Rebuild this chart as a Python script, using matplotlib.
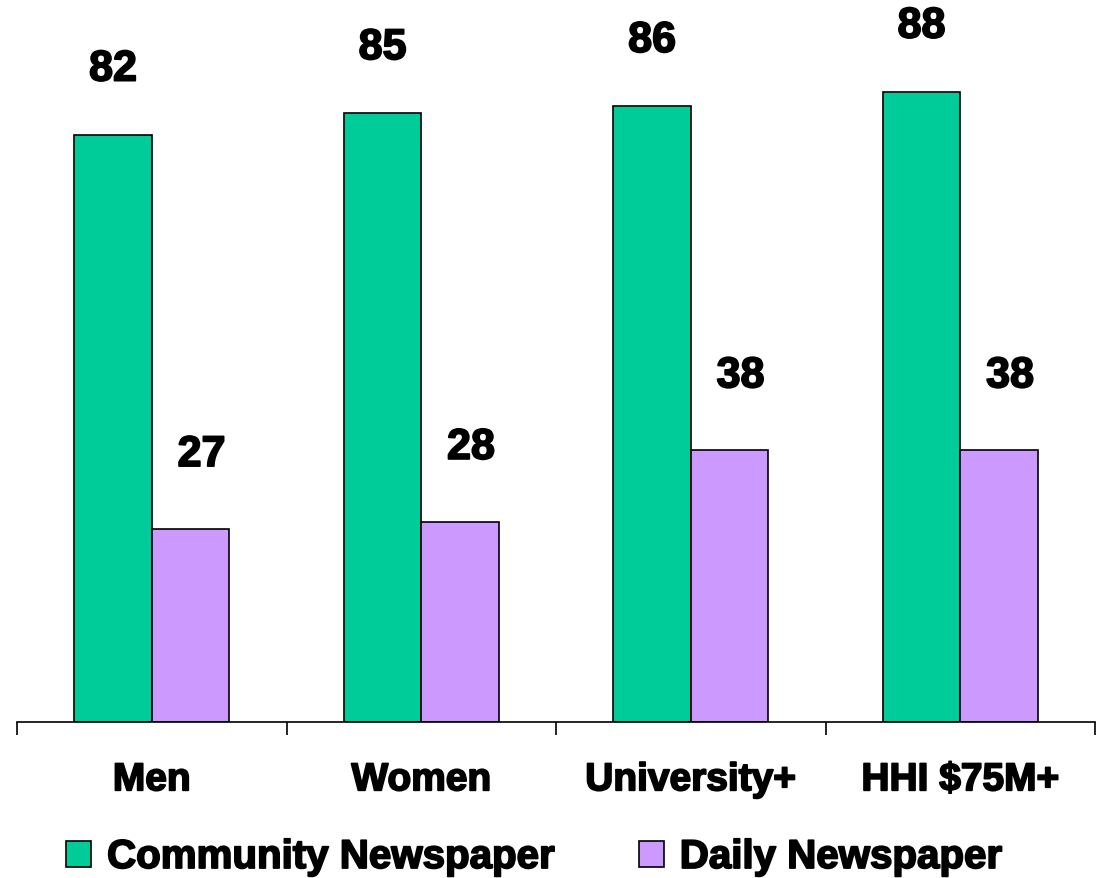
import numpy as np
import matplotlib.pyplot as plt
import matplotlib.patheffects as pe
from matplotlib.patches import Patch

plt.rcParams['font.family'] = ['Liberation Sans', 'DejaVu Sans']
plt.rcParams['font.weight'] = 'bold'

categories = ["Men", "Women", "University+", "HHI $75M+"]
community = [82, 85, 86, 88]
daily = [27, 28, 38, 38]
series_names = ["Community Newspaper", "Daily Newspaper"]
green = "#00CC99"
purple = "#CC99FF"

heavy = [pe.withStroke(linewidth=1.3, foreground="black")]

fig = plt.figure(figsize=(11.01, 8.79), dpi=100)
ax = fig.add_axes([17 / 1101, 156 / 879, 1078 / 1101, 716 / 879])

x = np.arange(len(categories))
w = 0.287
b1 = ax.bar(x - w / 2, community, w, color=green, edgecolor="black", linewidth=1.2)
b2 = ax.bar(x + w / 2, daily, w, color=purple, edgecolor="black", linewidth=1.2)

for rect, v in zip(b1, community):
    ax.annotate(str(v), (rect.get_x() + rect.get_width() / 2, rect.get_height()),
                xytext=(0, 47), textcoords="offset points", ha="center", va="center",
                fontsize=31, fontweight="bold", path_effects=heavy)
for rect, v in zip(b2, daily):
    ax.annotate(str(v), (rect.get_x() + rect.get_width() / 2, rect.get_height()),
                xytext=(8, 53), textcoords="offset points", ha="center", va="center",
                fontsize=31, fontweight="bold", path_effects=heavy)

ax.set_xlim(-0.5, len(categories) - 0.5)
ax.set_ylim(0, 100)
ax.set_xticks(np.arange(len(categories) + 1) - 0.5)
ax.set_xticklabels([])
ax.set_xticks(x, minor=True)
ax.set_xticklabels(categories, minor=True, fontsize=28, fontweight="bold")
for t in ax.get_xticklabels(minor=True):
    t.set_path_effects(heavy)
ax.tick_params(axis="x", which="major", direction="out", length=9, width=1.2, color="black")
ax.tick_params(axis="x", which="minor", length=0, pad=29)
ax.set_yticks([])
for s in ["top", "right", "left"]:
    ax.spines[s].set_visible(False)
ax.spines["bottom"].set_linewidth(1.2)

handles = [Patch(facecolor=green, edgecolor="black", linewidth=1.2),
           Patch(facecolor=purple, edgecolor="black", linewidth=1.2)]
leg = fig.legend(handles, series_names, loc="center left", bbox_to_anchor=(66 / 1101, 1 - 858 / 879),
                 ncol=2, frameon=False, handlelength=0.62, handleheight=0.62, borderpad=0,
                 borderaxespad=0, handletextpad=0.4, columnspacing=2.1,
                 prop={"weight": "bold", "size": 29})
for t in leg.get_texts():
    t.set_path_effects(heavy)

fig.savefig("out.png", dpi=100)
